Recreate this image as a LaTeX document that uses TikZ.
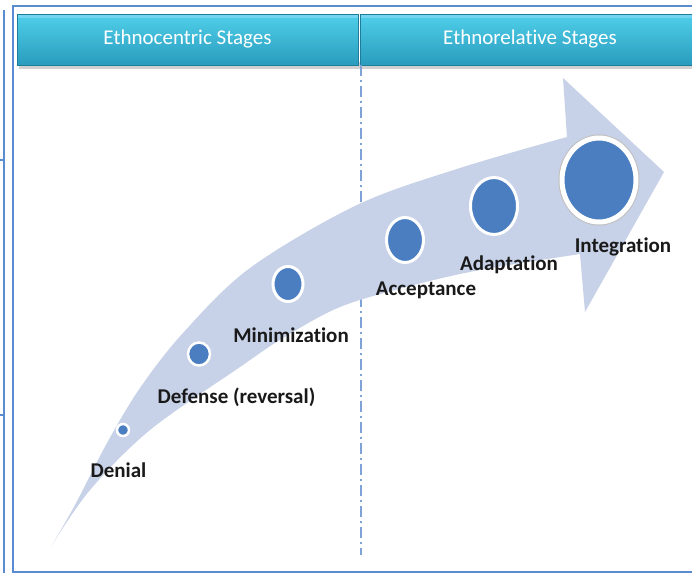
\documentclass[tikz,border=0pt]{standalone}
\usepackage{fontspec}
\setmainfont[RawFeature={-liga;-clig}]{Carlito}
\usetikzlibrary{shapes.geometric}
\definecolor{framec}{HTML}{5B8BD1}
\definecolor{hdrtop}{HTML}{4FCFEA}
\definecolor{hdrbot}{HTML}{2A9CBD}
\definecolor{hdredge}{HTML}{1E7D98}
\definecolor{bandc}{HTML}{C7D1E7}
\definecolor{dotc}{HTML}{4A7EC1}
\definecolor{sepc}{HTML}{7FA3D6}
\tikzset{
  framel/.style={draw=framec, line width=1.6pt},
  hdr/.style={rectangle, top color=hdrtop, bottom color=hdrbot, draw=hdredge, line width=0.8pt,
    inner sep=0pt, text=white, font=\fontsize{21}{25}\selectfont},
  hdrshadow/.style={fill=black!18},
  dotn/.style={ellipse, fill=dotc, draw=white, inner sep=0pt},
  lab/.style={font=\bfseries\fontsize{21}{25}\selectfont, text=black!90, inner sep=0pt},
  sepl/.style={draw=sepc, line width=1.2pt, dash pattern=on 11pt off 4pt on 2pt off 4pt}
}
\begin{document}
\begin{tikzpicture}[x=1pt,y=-1pt]
\useasboundingbox (0,0) rectangle (692,576);
\fill[white] (0,0) rectangle (692,576);
% frame
\draw[framel] (4,10) -- (4,573);
\draw[framel] (0,160) -- (4,160);
\draw[framel] (0,415) -- (4,415);
\draw[framel] (692,6) -- (13,6) -- (13,572) -- (692,572);
% header shadows
\fill[hdrshadow] (19,62) rectangle (360,69);
\fill[hdrshadow] (362,62) rectangle (700,69);
% headers
\node[hdr, minimum width=341pt, minimum height=51pt] (h1) at (187.5,39.5) {Ethnocentric Stages};
\node[hdr, minimum width=340pt, minimum height=51pt] (h2) at (530,39.5) {Ethnorelative Stages};
\fill[cyan!45!white, opacity=0.6] (17.5,14.5) rectangle (358,17.5);
\fill[cyan!45!white, opacity=0.6] (360.5,14.5) rectangle (700,17.5);
% separator
\coordinate (s1) at (361,65);
\coordinate (s2) at (361,555);
\draw[sepl] (s1) -- (s2);
% big arrow
\fill[bandc] plot[smooth, tension=0.55] coordinates {(52,545) (75,505) (107,443) (140,388) (183,333) (250,268) (357,205) (460,168) (567,137)}
  -- (563,78) -- (664,172) -- (585,312) -- (580,254)
  -- plot[smooth, tension=0.55] coordinates {(580,254) (480,270) (410,286) (340,307) (283,338) (240,367) (150,430) (90,490) (52,545)} -- cycle;
% dots
\node[dotn, line width=2.5pt, minimum width=12pt, minimum height=12pt] (c1) at (123,430) {};
\node[dotn, line width=2.5pt, minimum width=22pt, minimum height=23pt] (c2) at (199,354) {};
\node[dotn, line width=3pt, minimum width=30pt, minimum height=35pt] (c3) at (288,284) {};
\node[dotn, line width=3pt, minimum width=37pt, minimum height=45pt] (c4) at (405,240) {};
\node[dotn, line width=3pt, minimum width=47pt, minimum height=57pt] (c5) at (494,206) {};
\node[dotn, line width=5pt, minimum width=74pt, minimum height=84pt,
  preaction={draw=black!25, line width=7pt}] (c6) at (599,180) {};
% labels
\node[lab] (l1) at (118.5,470) {Denial};
\node[lab] (l2) at (236.5,397) {Defense (reversal)};
\node[lab] (l3) at (291,335) {Minimization};
\node[lab] (l4) at (426,290) {Acceptance};
\node[lab] (l5) at (509,265) {Adaptation};
\node[lab] (l6) at (623,247) {Integration};
\end{tikzpicture}
\end{document}
